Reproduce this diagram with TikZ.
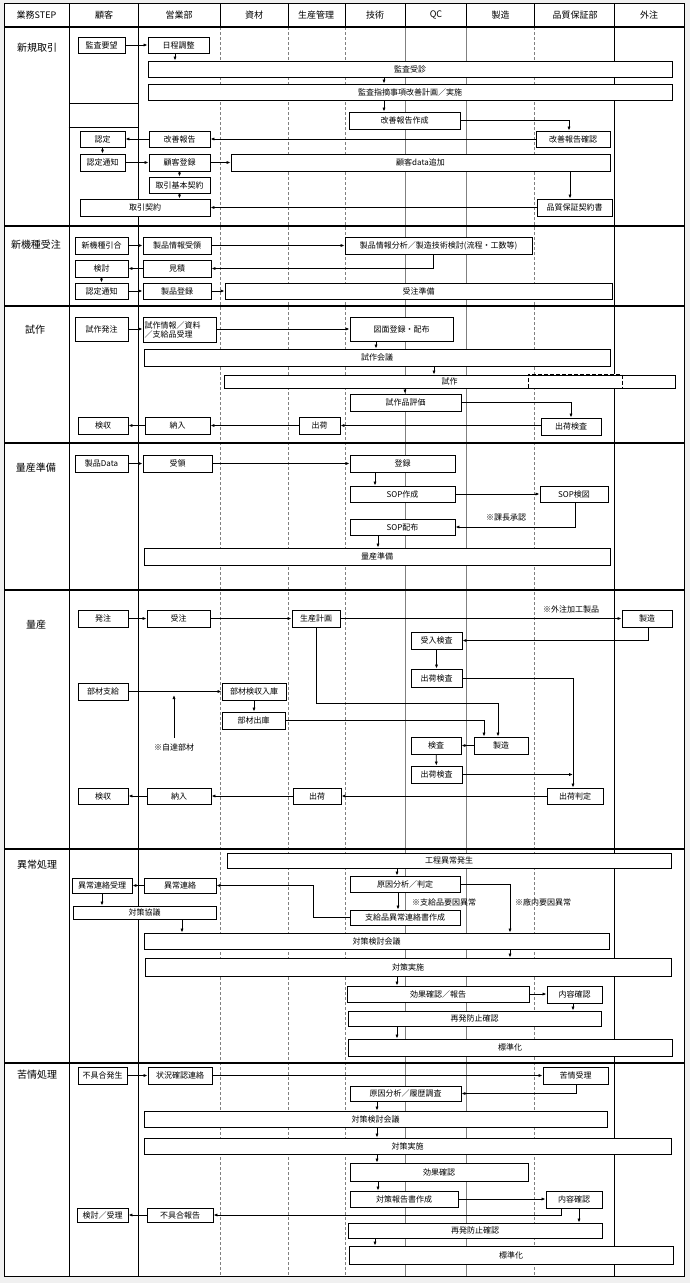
\documentclass[tikz,border=0pt]{standalone}
\usepackage{fontspec}
\setmainfont{Noto Sans CJK JP}
\usetikzlibrary{arrows.meta}

\tikzset{
  box/.style={draw, fill=white, line width=0.9pt, inner sep=0pt, text height=7pt, text depth=1pt,
    font=\fontsize{8}{9}\selectfont},
  corners/.style n args={4}{at={({(#1+#3)/2},{(#2+#4)/2})},
    minimum width={(#3-#1)*1pt}, minimum height={(#4-#2)*1pt}},
  arr/.style={-{Latex[length=4pt,width=3.2pt]}, line width=0.8pt},
  note/.style={inner sep=0pt, font=\fontsize{8}{9}\selectfont},
  head/.style={inner sep=0pt, font=\fontsize{9}{10}\selectfont},
  stepname/.style={inner sep=0pt, font=\fontsize{10}{11}\selectfont},
  lane/.style={gray, line width=0.5pt, dash pattern=on 3pt off 2pt},
  lanesolid/.style={gray, line width=0.5pt},
  sep/.style={line width=1.5pt}
}

\begin{document}
\begin{tikzpicture}[x=1pt, y=-1pt]
    \useasboundingbox (0,0) rectangle (690,1283);
    \fill[gray!12] (0,0) rectangle (690,1283);
    \fill[white] (4,3) rectangle (684,1276);

    % grid
    \foreach \x in {220,288,345,534} \draw[lane] (\x,27) -- (\x,1276);
    \foreach \x in {405,466} \draw[lanesolid] (\x,27) -- (\x,1276);
    \foreach \x in {220,288,345,405,466,534} \draw[line width=0.7pt] (\x,3) -- (\x,27);
    \foreach \x in {69,138.6,614.7} \draw[line width=0.8pt] (\x,3) -- (\x,1276);
    \draw[line width=1.2pt] (4,27) -- (684,27);
    \foreach \y in {226,306,443,590,849,1063} \draw[sep] (4,\y) -- (684,\y);
    \draw[line width=1pt] (4,3) rectangle (684,1276);

    \foreach \t/\x [count=\i] in {業務STEP/36.5, 顧客/104, 営業部/179, 資材/254, 生産管理/316,
        技術/375, QC/436, 製造/500.5, 品質保証部/575, 外注/649}
        \node[head] (head\i) at (\x,15) {\t};

    \node[stepname] (sshinki) at (37,48) {新規取引};
    \node[stepname] (skishu) at (36,245) {新機種受注};
    \node[stepname] (sshisaku) at (35,330) {試作};
    \node[stepname] (sjunbi) at (36,468) {量産準備};
    \node[stepname] (sryosan) at (36,625) {量産};
    \node[stepname] (sijo) at (37,865) {異常処理};
    \node[stepname] (skujo) at (37,1075) {苦情処理};

    % 新規取引
    \node[box, corners={78}{37}{125}{53}] (kansayobo) {監査要望};
    \node[box, corners={148}{37}{209}{53}] (nittei) {日程調整};
    \node[box, corners={148}{61}{672}{77}] (kansaju) {監査受診};
    \node[box, corners={148}{84}{672}{100}] (kaizenkeikaku) {監査指摘事項改善計画／実施};
    \node[draw, line width=0.8pt, inner sep=0pt, corners={69}{103}{138.6}{127}] (blankbox) {};
    \draw[line width=1.8pt] (blankbox.south west) -- (blankbox.south east);
    \node[box, corners={349}{112}{460}{129}] (kaizensakusei) {改善報告作成};
    \node[box, corners={80}{131}{125}{147}] (nintei) {認定};
    \node[box, corners={149}{131}{210}{147}] (kaizenhokoku) {改善報告};
    \node[box, corners={536}{131}{610}{147}] (kaizenkakunin) {改善報告確認};
    \node[box, corners={80}{154}{125}{171}] (ninteitsuchi) {認定通知};
    \node[box, corners={149}{154}{210}{171}] (kokyaku) {顧客登録};
    \node[box, corners={231}{154}{610}{171}] (kokyakudata) {顧客data追加};
    \node[box, corners={149}{177}{210}{193}] (kihon) {取引基本契約};
    \node[box, corners={80}{199}{210}{216}] (torihiki) {取引契約};
    \node[box, corners={537}{199}{612}{216}] (hinsho) {品質保証契約書};

    \draw[arr] (kansayobo) -- (nittei);
    \draw[arr] (nittei.south -| 175,0) -- (kansaju.north -| 175,0);
    \draw[arr] (kansaju.south -| 384,0) -- (kaizenkeikaku.north -| 384,0);
    \draw[arr] (kaizenkeikaku.south -| 384,0) -- (kaizensakusei.north -| 384,0);
    \draw[arr] (kaizensakusei.east) -| (kaizenkakunin.north -| 569,0);
    \draw[arr] (kaizenkakunin) -- (kaizenhokoku);
    \draw[arr] (kaizenhokoku) -- (nintei);
    \draw[arr] (nintei) -- (ninteitsuchi);
    \draw[arr] (ninteitsuchi) -- (kokyaku);
    \draw[arr] (kokyaku) -- (kokyakudata);
    \draw[arr] (kokyaku) -- (kihon);
    \draw[arr] (kihon.south) -- (kihon.south |- torihiki.north);
    \draw[arr] (kokyakudata.south -| 570,0) -- (hinsho.north -| 570,0);
    \draw[arr] (hinsho) -- (torihiki);

    % 新機種受注
    \node[box, corners={75}{237}{128}{254}] (shinkishu) {新機種引合};
    \node[box, corners={143}{237}{211}{254}] (juryo) {製品情報受領};
    \node[box, corners={345}{237}{532}{254}] (bunseki) {製品情報分析／製造技術検討(流程・工数等)};
    \node[box, corners={75}{260}{128}{277}] (kento) {検討};
    \node[box, corners={143}{260}{211}{277}] (mitsumori) {見積};
    \node[box, corners={75}{283}{128}{299}] (ninteitsuchib) {認定通知};
    \node[box, corners={143}{283}{211}{299}] (seihin) {製品登録};
    \node[box, corners={225}{283}{612}{299}] (junbi) {受注準備};

    \draw[arr] (shinkishu) -- (juryo);
    \draw[arr] (juryo) -- (bunseki);
    \draw[arr] (bunseki.south -| 433,0) |- (mitsumori.east);
    \draw[arr] (mitsumori) -- (kento);
    \draw[arr] (kento) -- (ninteitsuchib);
    \draw[arr] (ninteitsuchib) -- (seihin);
    \draw[arr] (seihin) -- (junbi);

    % 試作
    \node[box, corners={75}{317}{128}{341}] (shisakuhatchu) {試作発注};
    \node[box, corners={143}{317}{216}{342}, text height={}, text depth={}, text width=70pt, align=left]
        (shisakujoho) {試作情報／資料\\／支給品受理};
    \node[box, corners={350}{317}{453}{341}] (zumen) {図面登録・配布};
    \node[box, corners={144}{349}{610}{366}] (kaigi) {試作会議};
    \node[box, corners={224}{375}{675}{388}] (shisaku) {試作};
    \draw[white, line width=1.6pt] (shisaku.north -| 528,0) -- (shisaku.north -| 622,0);
    \draw[line width=0.8pt, dash pattern=on 4pt off 2pt] (shisaku.south -| 528,0) -- (shisaku.north -| 528,0)
        -- (shisaku.north -| 622,0) -- (shisaku.south -| 622,0);
    \node[box, corners={350}{394}{461}{411}] (hyoka) {試作品評価};
    \node[box, corners={541}{418}{601}{435}] (shukkakensa) {出荷検査};
    \node[box, corners={299}{417}{340}{434}] (shukka) {出荷};
    \node[box, corners={145}{417}{210}{434}] (nonyu) {納入};
    \node[box, corners={78}{417}{128}{434}] (kenshu) {検収};

    \draw[arr] (shisakuhatchu) -- (shisakujoho.west |- shisakuhatchu);
    \draw[arr] (shisakujoho.east |- 0,329) -- (zumen.west |- 0,329);
    \draw[arr] (zumen.south -| 376,0) -- (kaigi.north -| 376,0);
    \draw[arr] (kaigi.south -| 434,0) -- (shisaku.north -| 434,0);
    \draw[arr] (shisaku.south -| 405,0) -- (hyoka.north -| 405,0);
    \draw[arr] (hyoka.east) -| (shukkakensa.north -| 571,0);
    \draw[arr] (shukkakensa.west |- shukka.east) -- (shukka.east);
    \draw[arr] (shukka) -- (nonyu);
    \draw[arr] (nonyu) -- (kenshu);

    % 量産準備
    \node[box, corners={75}{455}{128}{472}] (seihindata) {製品Data};
    \node[box, corners={143}{455}{212}{472}] (juryob) {受領};
    \node[box, corners={350}{455}{455}{472}] (toroku) {登録};
    \node[box, corners={350}{486}{455}{502}] (sopsakusei) {SOP作成};
    \node[box, corners={540}{486}{608}{502}] (sopkenzu) {SOP検図};
    \node[box, corners={350}{519}{455}{535}] (sophaifu) {SOP配布};
    \node[box, corners={144}{548}{610}{565}] (ryosanjunbi) {量産準備};
    \node[note] (kacho) at (506,518) {※課長承認};

    \draw[arr] (seihindata) -- (juryob);
    \draw[arr] (juryob) -- (toroku);
    \draw[arr] (toroku.south -| 375,0) -- (sopsakusei.north -| 375,0);
    \draw[arr] (sopsakusei) -- (sopkenzu);
    \draw[arr] (sopkenzu.south -| 575,0) |- (sophaifu.east);
    \draw[arr] (sophaifu.south -| 378,0) -- (ryosanjunbi.north -| 378,0);

    % 量産
    \node[box, corners={78}{610}{128}{627}] (hatchu) {発注};
    \node[box, corners={147}{610}{210}{627}] (juchu) {受注};
    \node[box, corners={292}{610}{340}{627}] (keikaku) {生産計画};
    \node[box, corners={622}{610}{672}{627}] (gaichuseizo) {製造};
    \node[note] (gaichulbl) at (571,609) {※外注加工製品};
    \node[box, corners={411}{632}{462}{649}] (ukeire) {受入検査};
    \node[box, corners={411}{669}{462}{687}] (shukkakensa1) {出荷検査};
    \node[box, corners={78}{683}{128}{700}] (buzaishikyu) {部材支給};
    \node[box, corners={222}{683}{286}{700}] (buzaikenshu) {部材検収入庫};
    \node[box, corners={222}{712}{285}{729}] (buzaishukko) {部材出庫};
    \node[note] (jitatsu) at (174,747) {※自達部材};
    \node[box, corners={474}{737}{528}{754}] (seizo) {製造};
    \node[box, corners={411}{737}{461}{754}] (kensa) {検査};
    \node[box, corners={411}{766}{462}{783}] (shukkakensa2) {出荷検査};
    \node[box, corners={547}{788}{603}{804}] (hantei) {出荷判定};
    \node[box, corners={293}{788}{341}{804}] (shukkab) {出荷};
    \node[box, corners={147}{788}{211}{804}] (nonyub) {納入};
    \node[box, corners={78}{788}{128}{804}] (kenshub) {検収};

    \draw[arr] (hatchu) -- (juchu);
    \draw[arr] (juchu) -- (keikaku);
    \draw[arr] (keikaku) -- (gaichuseizo);
    \draw[arr] (gaichuseizo.south -| 648,0) |- (ukeire.east);
    \draw[arr] (ukeire) -- (shukkakensa1);
    \draw[arr] (shukkakensa1.east) -| (hantei.north -| 573,0);
    \draw[arr] (buzaishikyu) -- (buzaikenshu);
    \draw[arr] ([yshift=5pt]jitatsu.north) -- (jitatsu.north |- 0,695);
    \draw[arr] (buzaikenshu.south) -- (buzaikenshu.south |- buzaishukko.north);
    \draw[arr] (keikaku.south) |- (498,703) -- (seizo.north -| 498,0);
    \draw[arr] (buzaishukko.east) -| (seizo.north -| 484,0);
    \draw[arr] (seizo) -- (kensa);
    \draw[arr] (kensa) -- (shukkakensa2);
    \draw[arr] (shukkakensa2.east) -- (shukkakensa2.east -| 573,0);
    \draw[arr] (hantei) -- (shukkab);
    \draw[arr] (shukkab) -- (nonyub);
    \draw[arr] (nonyub) -- (kenshub);

    % 異常処理
    \node[box, corners={227}{853}{671}{868}] (kotei) {工程異常発生};
    \node[box, corners={350}{876}{460}{892}] (genin) {原因分析／判定};
    \node[box, corners={72}{878}{132}{893}] (ijoukeiju) {異常連絡受理};
    \node[box, corners={144}{878}{216}{893}] (ijourenraku) {異常連絡};
    \node[box, corners={350}{910}{460}{925}] (shikyurenraku) {支給品異常連絡書作成};
    \node[box, corners={73}{906}{216}{919}] (taisakukyogi) {対策協議};
    \node[box, corners={144}{933}{609}{949}] (kentokaigi) {対策検討会議};
    \node[box, corners={145}{958}{671}{976}] (jisshi) {対策実施};
    \node[box, corners={347}{986}{529}{1002}] (koka) {効果確認／報告};
    \node[box, corners={547}{986}{602}{1003}] (naiyo) {内容確認};
    \node[box, corners={348}{1011}{601}{1026}] (saihatsu) {再発防止確認};
    \node[box, corners={348}{1039}{672}{1056}] (hyojunka) {標準化};
    \node[note] (lblshikyu) at (444,902) {※支給品要因異常};
    \node[note] (lblshanai) at (543,902) {※廠内要因異常};

    \draw[arr] (kotei.south -| 397,0) -- (genin.north -| 397,0);
    \draw[arr] (ijourenraku) -- (ijoukeiju);
    \draw[arr] (shikyurenraku.west) -| (ijourenraku.east -| 313,0) -- (ijourenraku.east);
    \draw[arr] (genin.south -| 398,0) -- (shikyurenraku.north -| 398,0);
    \draw[arr] (genin.east) -| (kentokaigi.north -| 510,0);
    \draw[arr] (ijoukeiju.south -| 102,0) -- (taisakukyogi.north -| 102,0);
    \draw[arr] (taisakukyogi.south -| 182,0) -- (kentokaigi.north -| 182,0);
    \draw[arr] (kentokaigi.south -| 510,0) -- (jisshi.north -| 510,0);
    \draw[arr] (jisshi.south -| 397,0) -- (koka.north -| 397,0);
    \draw[arr] (koka.east) -- (koka.east -| naiyo.west);
    \draw[arr] (naiyo.south -| 573,0) -- (saihatsu.north -| 573,0);
    \draw[arr] (saihatsu.south -| 397,0) -- (hyojunka.north -| 397,0);

    % 苦情処理
    \node[box, corners={78}{1067}{127}{1084}] (fuguai) {不具合発生};
    \node[box, corners={148}{1067}{212}{1084}] (jokyo) {状況確認連絡};
    \node[box, corners={543}{1067}{608}{1084}] (kujo) {苦情受理};
    \node[box, corners={350}{1086}{461}{1101}] (geninb) {原因分析／履歴調査};
    \node[box, corners={144}{1111}{607}{1127}] (kentokaigib) {対策検討会議};
    \node[box, corners={144}{1138}{671}{1154}] (jisshib) {対策実施};
    \node[box, corners={350}{1163}{528}{1181}] (kokab) {効果確認};
    \node[box, corners={350}{1191}{458}{1207}] (taisakuhokoku) {対策報告書作成};
    \node[box, corners={546}{1191}{602}{1208}] (naiyob) {内容確認};
    \node[box, corners={147}{1208}{213}{1222}] (fuguaihokoku) {不具合報告};
    \node[box, corners={77}{1208}{128}{1222}] (kentojuri) {検討／受理};
    \node[box, corners={348}{1223}{602}{1238}] (saihatsub) {再発防止確認};
    \node[box, corners={349}{1246}{673}{1264}] (hyojunkab) {標準化};

    \draw[arr] (fuguai) -- (jokyo);
    \draw[arr] (jokyo) -- (kujo);
    \draw[arr] (kujo.south -| 576,0) |- (geninb.east);
    \draw[arr] (geninb.south -| 377,0) -- (kentokaigib.north -| 377,0);
    \draw[arr] (kentokaigib.south -| 377,0) -- (jisshib.north -| 377,0);
    \draw[arr] (jisshib.south -| 377,0) -- (kokab.north -| 377,0);
    \draw[arr] (kokab.south -| 378,0) -- (taisakuhokoku.north -| 378,0);
    \draw[arr] (taisakuhokoku.east) -- (taisakuhokoku.east -| naiyob.west);
    \draw[arr] (naiyob.south -| 561,0) |- (fuguaihokoku.east);
    \draw[arr] (fuguaihokoku) -- (kentojuri);
    \draw[arr] (naiyob.south -| 579,0) -- (saihatsub.north -| 579,0);
    \draw[arr] (saihatsub.south -| 375,0) -- (hyojunkab.north -| 375,0);
\end{tikzpicture}
\end{document}
